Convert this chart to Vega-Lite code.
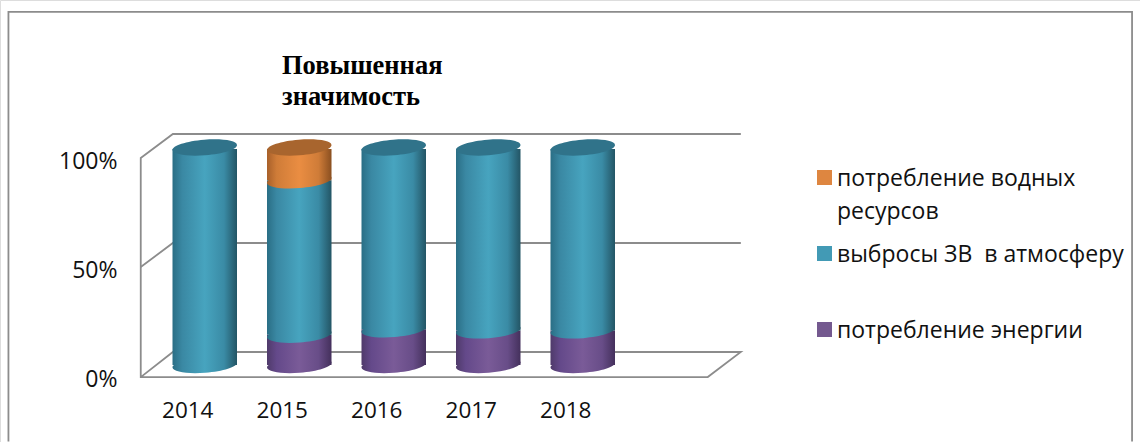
{
  "$schema": "https://vega.github.io/schema/vega-lite/v6.json",
  "width": 1140,
  "height": 442,
  "autosize": "none",
  "padding": 0,
  "background": "white",
  "title": {
    "text": ["Повышенная", "значимость"],
    "anchor": "start",
    "frame": "group",
    "orient": "top",
    "font": "Liberation Serif",
    "fontSize": 26.5,
    "fontWeight": "bold",
    "color": "#000000",
    "lineHeight": 31,
    "baseline": "top",
    "offset": 0,
    "dx": 282,
    "dy": 110
  },
  "layer": [
    {
      "data": {
        "values": [
          {"seg": "border", "i": 1, "x": 2012.1, "y": -30},
          {"seg": "border", "i": 2, "x": 2012.1, "y": 167},
          {"seg": "border", "i": 3, "x": 2023.99, "y": 167},
          {"seg": "border", "i": 4, "x": 2023.99, "y": -30},
          {"seg": "frame", "i": 1, "x": 2019.85, "y": 111},
          {"seg": "frame", "i": 2, "x": 2013.84, "y": 111},
          {"seg": "frame", "i": 3, "x": 2013.5, "y": 100},
          {"seg": "frame", "i": 4, "x": 2013.5, "y": -0.5},
          {"seg": "frame", "i": 5, "x": 2019.5, "y": -0.5},
          {"seg": "frame", "i": 6, "x": 2019.85, "y": 11},
          {"seg": "frame", "i": 7, "x": 2013.84, "y": 11},
          {"seg": "frame", "i": 8, "x": 2013.5, "y": -0.5},
          {"seg": "mid", "i": 1, "x": 2013.5, "y": 50},
          {"seg": "mid", "i": 2, "x": 2013.84, "y": 61},
          {"seg": "mid", "i": 3, "x": 2019.85, "y": 61}
        ]
      },
      "mark": {"type": "line", "color": "#8c8c8c", "strokeWidth": 1.8, "clip": false},
      "encoding": {
        "x": {"field": "x", "type": "quantitative", "scale": {"domain": [2014, 2018], "range": [188, 566], "nice": false, "zero": false}, "axis": null},
        "y": {
          "field": "y",
          "type": "quantitative",
          "scale": {"domain": [0, 100], "range": [376, 158], "nice": false, "zero": false},
          "axis": {"values": [0, 50, 100], "labelExpr": "datum.value + '%'", "title": null, "grid": false, "ticks": false, "domain": false, "offset": -118, "labelPadding": 1, "labelOffset": 3, "labelFont": "Open Sans", "labelFontSize": 23, "labelColor": "#111111"}
        },
        "detail": {"field": "seg"},
        "order": {"field": "i"}
      }
    },
    {
      "data": {
        "values": [
          {"year": "2014", "series": "выбросы ЗВ\u00a0 в атмосферу", "ord": 2, "value": 100},
          {"year": "2015", "series": "потребление энергии", "ord": 1, "value": 14},
          {"year": "2015", "series": "выбросы ЗВ\u00a0 в атмосферу", "ord": 2, "value": 71.5},
          {"year": "2015", "series": "потребление водных ресурсов", "ord": 3, "value": 14.5},
          {"year": "2016", "series": "потребление энергии", "ord": 1, "value": 16.5},
          {"year": "2016", "series": "выбросы ЗВ\u00a0 в атмосферу", "ord": 2, "value": 83.5},
          {"year": "2017", "series": "потребление энергии", "ord": 1, "value": 16},
          {"year": "2017", "series": "выбросы ЗВ\u00a0 в атмосферу", "ord": 2, "value": 84},
          {"year": "2018", "series": "потребление энергии", "ord": 1, "value": 16},
          {"year": "2018", "series": "выбросы ЗВ\u00a0 в атмосферу", "ord": 2, "value": 84}
        ]
      },
      "transform": [
        {"stack": "value", "groupby": ["year"], "sort": [{"field": "ord", "order": "ascending"}], "as": ["y0", "y1"]}
      ],
      "encoding": {
        "x": {
          "field": "year",
          "type": "ordinal",
          "scale": {"domain": ["2014", "2015", "2016", "2017", "2018"], "range": [157.5, 630], "paddingInner": 0, "paddingOuter": 0},
          "axis": {"title": null, "orient": "bottom", "offset": -43, "ticks": false, "domain": false, "grid": false, "labelAngle": 0, "labelOffset": -17, "labelPadding": 0, "labelFont": "Open Sans", "labelFontSize": 22.5, "labelColor": "#111111"}
        }
      },
      "layer": [
        {
          "transform": [{"filter": "datum.ord == 1"}],
          "mark": {"type": "bar", "width": 64.5, "fill": {"gradient": "linear", "x1": 0, "y1": 0, "x2": 1, "y2": 0, "stops": [{"offset": 0, "color": "#4f3a6a"}, {"offset": 0.15, "color": "#64498a"}, {"offset": 0.5, "color": "#7a5b98"}, {"offset": 0.8, "color": "#684d88"}, {"offset": 1, "color": "#44305c"}]}},
          "encoding": {
            "y": {"field": "y1", "type": "quantitative", "scale": {"domain": [0, 100], "range": [365, 149], "nice": false, "zero": false}, "axis": null},
            "y2": {"field": "y0"}
          }
        },
        {
          "transform": [{"filter": "datum.ord == 1"}],
          "mark": {"type": "point", "filled": true, "opacity": 1, "size": 4160, "shape": "M -1 0.08 A 1.003 0.24 -4.6 1 1 1 -0.08 A 1.003 0.24 -4.6 1 1 -1 0.08 Z", "fill": {"gradient": "linear", "x1": 0, "y1": 0, "x2": 1, "y2": 0, "stops": [{"offset": 0, "color": "#4f3a6a"}, {"offset": 0.15, "color": "#64498a"}, {"offset": 0.5, "color": "#7a5b98"}, {"offset": 0.8, "color": "#684d88"}, {"offset": 1, "color": "#44305c"}]}},
          "encoding": {"y": {"field": "y0", "type": "quantitative", "scale": {"domain": [0, 100], "range": [365, 149], "nice": false, "zero": false}, "axis": null}}
        },
        {
          "transform": [{"filter": "datum.ord == 2"}],
          "mark": {"type": "bar", "width": 64.5, "fill": {"gradient": "linear", "x1": 0, "y1": 0, "x2": 1, "y2": 0, "stops": [{"offset": 0, "color": "#2a6e85"}, {"offset": 0.15, "color": "#3a88a3"}, {"offset": 0.5, "color": "#47a4bf"}, {"offset": 0.8, "color": "#3a8ba5"}, {"offset": 1, "color": "#235565"}]}},
          "encoding": {
            "y": {"field": "y1", "type": "quantitative", "scale": {"domain": [0, 100], "range": [365, 149], "nice": false, "zero": false}, "axis": null},
            "y2": {"field": "y0"}
          }
        },
        {
          "transform": [{"filter": "datum.ord == 2"}],
          "mark": {"type": "point", "filled": true, "opacity": 1, "size": 4160, "shape": "M -1 0.08 A 1.003 0.24 -4.6 1 1 1 -0.08 A 1.003 0.24 -4.6 1 1 -1 0.08 Z", "fill": {"gradient": "linear", "x1": 0, "y1": 0, "x2": 1, "y2": 0, "stops": [{"offset": 0, "color": "#2a6e85"}, {"offset": 0.15, "color": "#3a88a3"}, {"offset": 0.5, "color": "#47a4bf"}, {"offset": 0.8, "color": "#3a8ba5"}, {"offset": 1, "color": "#235565"}]}},
          "encoding": {"y": {"field": "y0", "type": "quantitative", "scale": {"domain": [0, 100], "range": [365, 149], "nice": false, "zero": false}, "axis": null}}
        },
        {
          "transform": [{"filter": "datum.ord == 3"}],
          "mark": {"type": "bar", "width": 64.5, "fill": {"gradient": "linear", "x1": 0, "y1": 0, "x2": 1, "y2": 0, "stops": [{"offset": 0, "color": "#a8602a"}, {"offset": 0.15, "color": "#cf7c38"}, {"offset": 0.5, "color": "#ea8d42"}, {"offset": 0.8, "color": "#cf7c38"}, {"offset": 1, "color": "#8a4f20"}]}},
          "encoding": {
            "y": {"field": "y1", "type": "quantitative", "scale": {"domain": [0, 100], "range": [365, 149], "nice": false, "zero": false}, "axis": null},
            "y2": {"field": "y0"}
          }
        },
        {
          "transform": [{"filter": "datum.ord == 3"}],
          "mark": {"type": "point", "filled": true, "opacity": 1, "size": 4160, "shape": "M -1 0.08 A 1.003 0.24 -4.6 1 1 1 -0.08 A 1.003 0.24 -4.6 1 1 -1 0.08 Z", "fill": {"gradient": "linear", "x1": 0, "y1": 0, "x2": 1, "y2": 0, "stops": [{"offset": 0, "color": "#a8602a"}, {"offset": 0.15, "color": "#cf7c38"}, {"offset": 0.5, "color": "#ea8d42"}, {"offset": 0.8, "color": "#cf7c38"}, {"offset": 1, "color": "#8a4f20"}]}},
          "encoding": {"y": {"field": "y0", "type": "quantitative", "scale": {"domain": [0, 100], "range": [365, 149], "nice": false, "zero": false}, "axis": null}}
        },
        {
          "transform": [{"filter": "datum.y1 == 100"}],
          "mark": {"type": "point", "filled": true, "opacity": 1, "size": 4160, "yOffset": -1.5, "shape": "M -1 0.08 A 1.003 0.24 -4.6 1 1 1 -0.08 A 1.003 0.24 -4.6 1 1 -1 0.08 Z"},
          "encoding": {
            "y": {"field": "y1", "type": "quantitative", "scale": {"domain": [0, 100], "range": [365, 149], "nice": false, "zero": false}, "axis": null},
            "fill": {"field": "series", "type": "nominal", "scale": {"domain": ["выбросы ЗВ\u00a0 в атмосферу", "потребление водных ресурсов"], "range": ["#30738a", "#a8652e"]}, "legend": null}
          }
        },
        {
          "mark": {"type": "point", "filled": true, "opacity": 0, "size": 10},
          "encoding": {
            "y": {"field": "y1", "type": "quantitative", "scale": {"domain": [0, 100], "range": [365, 149], "nice": false, "zero": false}, "axis": null},
            "color": {
              "field": "series",
              "type": "nominal",
              "scale": {"domain": ["потребление водных ресурсов", "выбросы ЗВ\u00a0 в атмосферу", "потребление энергии"], "range": ["#de8640", "#429ab5", "#74598f"]},
              "legend": {
                "title": null,
                "orient": "none",
                "legendX": 813,
                "legendY": 166,
                "symbolType": "square",
                "symbolSize": 225,
                "symbolOpacity": 1,
                "symbolStrokeWidth": 0,
                "labelFont": "Open Sans",
                "labelFontSize": 23,
                "labelColor": "#111111",
                "labelOffset": 1,
                "labelLimit": 330,
                "labelBaseline": "top",
                "rowPadding": 18,
                "labelExpr": "datum.label == 'потребление водных ресурсов' ? ['потребление водных', 'ресурсов'] : [datum.label, ' ']",
                "encode": {"labels": {"update": {"lineHeight": {"value": 33}, "dy": {"value": -10}}}}
              }
            }
          }
        }
      ]
    }
  ],
  "resolve": {"scale": {"x": "independent", "y": "independent", "color": "independent"}, "axis": {"x": "independent", "y": "independent"}}
}
